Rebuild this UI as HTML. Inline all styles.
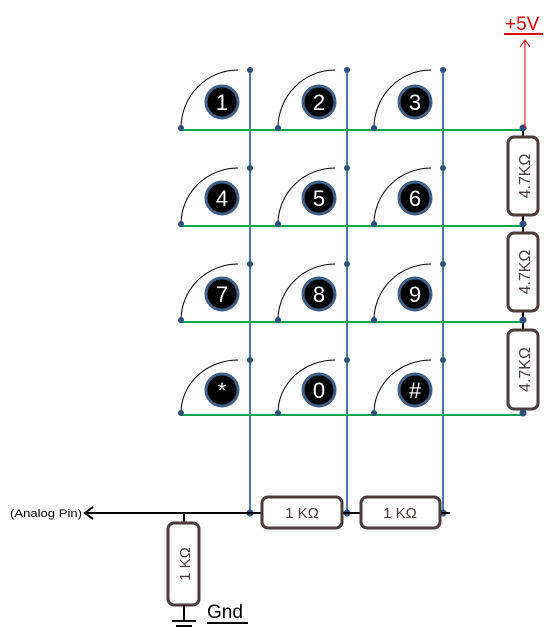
<!DOCTYPE html>
<html><head><meta charset="utf-8"><style>
html,body{margin:0;padding:0;background:#fff;width:548px;height:627px;overflow:hidden}
svg{display:block;font-family:"Liberation Sans",sans-serif}
</style></head><body>
<svg width="548" height="627" viewBox="0 0 548 627">
<g id="grid"></g>
<g>
<text x="505" y="30" fill="#e00000" font-size="19">+5V</text>
<line x1="504" y1="34" x2="543" y2="34" stroke="#e00000" stroke-width="2"/>
<line x1="525" y1="40" x2="525" y2="128" stroke="#e00000" stroke-width="1"/>
<polyline points="520,47 525,40 530,47" fill="none" stroke="#e00000" stroke-width="1"/>
</g>
<g>
<line x1="84" y1="513" x2="262" y2="513" stroke="#000" stroke-width="2"/>
<polyline points="93,507 85,513 93,519" fill="none" stroke="#000" stroke-width="2"/>
<text x="10" y="517" font-size="11" textLength="72" lengthAdjust="spacingAndGlyphs" fill="#000">(Analog Pin)</text>
<line x1="342" y1="513" x2="361" y2="513" stroke="#000" stroke-width="2"/>
<line x1="440" y1="513" x2="450" y2="513" stroke="#000" stroke-width="2"/>
<rect x="262" y="497" width="80" height="31" rx="6" fill="#fff" stroke="#4a3c3c" stroke-width="3"/>
<text x="302" y="518" font-size="15" text-anchor="middle" fill="#4a3c3c">1 KΩ</text>
<rect x="361" y="497" width="79" height="31" rx="6" fill="#fff" stroke="#4a3c3c" stroke-width="3"/>
<text x="400" y="518" font-size="15" text-anchor="middle" fill="#4a3c3c">1 KΩ</text>
<line x1="184" y1="513" x2="184" y2="523" stroke="#000" stroke-width="2"/>
<rect x="168" y="523" width="31" height="82" rx="6" fill="#fff" stroke="#4a3c3c" stroke-width="3"/>
<text transform="translate(190,564) rotate(-90)" font-size="15" text-anchor="middle" fill="#4a3c3c">1 KΩ</text>
<line x1="184" y1="605" x2="184" y2="621" stroke="#000" stroke-width="2"/>
<line x1="172" y1="621" x2="196" y2="621" stroke="#000" stroke-width="2"/>
<line x1="176" y1="626" x2="192" y2="626" stroke="#000" stroke-width="2"/>
<text x="207" y="618" font-size="19" fill="#000">Gnd</text>
<line x1="207" y1="623" x2="248" y2="623" stroke="#000" stroke-width="2"/>
</g>
</svg>
<script>
const rowYs=[130,226,322,415];
const colXs=[250,347,443];
const keys=[["1","2","3"],["4","5","6"],["7","8","9"],["*","0","#"]];
const NS="http://www.w3.org/2000/svg";
const g=document.getElementById('grid');


function mk(t,a,p){const e=document.createElementNS(NS,t);for(const k in a)e.setAttribute(k,a[k]);(p||g).appendChild(e);return e;}
colXs.forEach((x,c)=>{const l=mk('line',{x1:x,y1:70,x2:x,y2:513,stroke:'#4a7ab5','stroke-width':2});

});
rowYs.forEach((y,r)=>{const l=mk('line',{x1:181,y1:y,x2:523,y2:y,stroke:'#00a651','stroke-width':2});

});
mk('line',{x1:523,y1:128,x2:523,y2:415,stroke:'#000','stroke-width':2});
[[137,215],[233,311],[330,409]].forEach((v,i)=>{
const rr=mk('rect',{x:508,y:v[0],width:30,height:v[1]-v[0],rx:6,fill:'#fff',stroke:'#4a3c3c','stroke-width':3});


const t=mk('text',{transform:`translate(530,${(v[0]+v[1])/2}) rotate(-90)`,'font-size':16,'text-anchor':'middle',fill:'#4a3c3c'});
t.textContent='4.7KΩ';});
keys.forEach((row,r)=>row.forEach((k,c)=>{
const x=colXs[c],y=rowYs[r];const top=r===0?70:rowYs[r-1]+38;
const lx=x-69;
mk('path',{d:`M${lx} ${y-2} A ${x-12-lx} ${y-2-top} 0 0 1 ${x-12} ${top}`,fill:'none',stroke:'#000','stroke-width':1});
const cy=y-(r===3?25:28);const cx=x-28;
const circ=mk('circle',{cx:cx,cy:cy,r:16,fill:'#000',stroke:'#3e5f8a','stroke-width':3});


const t=mk('text',{x:cx,y:cy+8,'font-size':22,'text-anchor':'middle',fill:'#fff'});t.textContent=k;
mk('circle',{cx:lx,cy:y-2,r:3,fill:'#2d4f7a'});
mk('circle',{cx:x,cy:top,r:3,fill:'#2d4f7a'});
}));
rowYs.forEach(y=>mk('circle',{cx:523,cy:y-2,r:3.5,fill:'#2d4f7a'}));
colXs.forEach(x=>mk('circle',{cx:x,cy:513,r:3.5,fill:'#2d4f7a'}));
</script>
</body></html>
